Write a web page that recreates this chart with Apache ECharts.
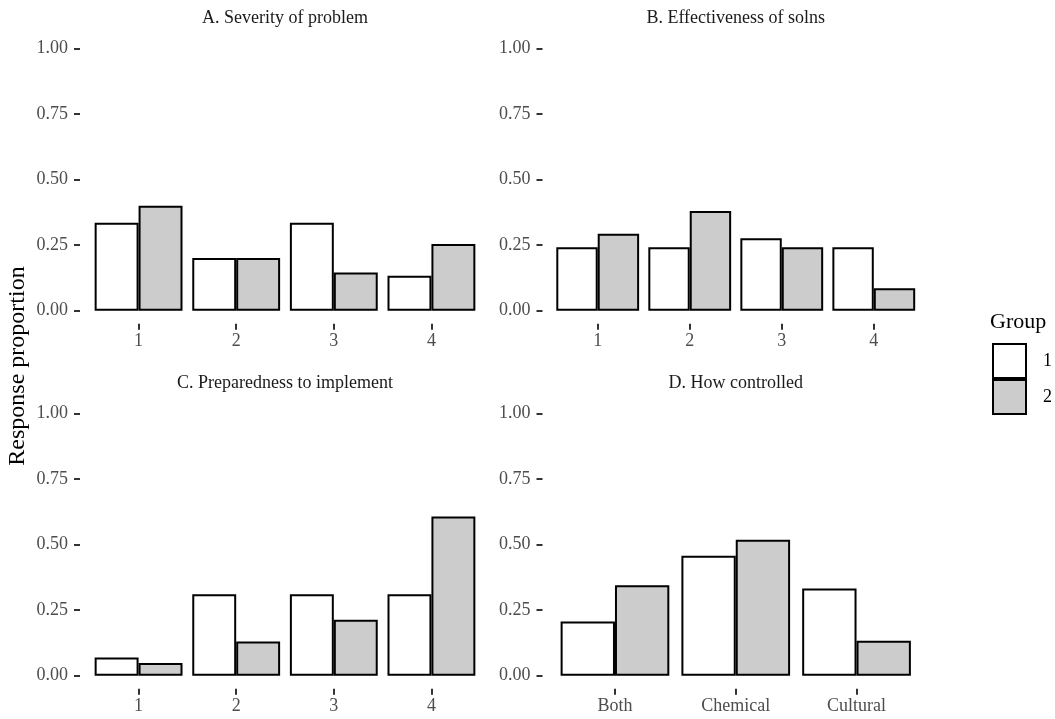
<!DOCTYPE html>
<html>
<head>
<meta charset="utf-8">
<script src="https://cdn.jsdelivr.net/npm/echarts@6/dist/echarts.min.js"></script>
<style>
  html, body { margin: 0; padding: 0; background: #fff; }
  #chart { width: 1055px; height: 719px; }
</style>
</head>
<body>
<div id="chart"></div>
<script>
// Response proportions by group for four survey questions
const panelTitles = ['A. Severity of problem', 'B. Effectiveness of solns', 'C. Preparedness to implement', 'D. How controlled'];
const scaleCats = ['1', '2', '3', '4'];
const controlCats = ['Both', 'Chemical', 'Cultural'];
const groupNames = ['1', '2'];

const severityG1 = [0.335, 0.201, 0.335, 0.133];
const severityG2 = [0.400, 0.201, 0.146, 0.254];
const effectivenessG1 = [0.242, 0.242, 0.276, 0.242];
const effectivenessG2 = [0.293, 0.380, 0.242, 0.086];
const preparednessG1 = [0.069, 0.310, 0.310, 0.310];
const preparednessG2 = [0.048, 0.130, 0.213, 0.607];
const controlG1 = [0.207, 0.457, 0.332];
const controlG2 = [0.345, 0.518, 0.133];

const FONT = 'Liberation Serif';
const fills = ['#ffffff', '#cccccc'];

// panel frames: [x of 0.4, x of n+0.6, y of 1.00, y of 0.00]
const panels = [
  { cats: scaleCats,   g1: severityG1,      g2: severityG2,      x0: 80,    x1: 490, yTop: 48.3,  yBot: 310.7 },
  { cats: scaleCats,   g1: effectivenessG1, g2: effectivenessG2, x0: 542.5, x1: 929, yTop: 48.3,  yBot: 310.7 },
  { cats: scaleCats,   g1: preparednessG1,  g2: preparednessG2,  x0: 80,    x1: 490, yTop: 413.3, yBot: 675.7 },
  { cats: controlCats, g1: controlG1,       g2: controlG2,       x0: 542.5, x1: 929, yTop: 413.3, yBot: 675.7 }
];

const grids = [], xAxes = [], yAxes = [], series = [], graphics = [];

panels.forEach((p, i) => {
  const n = p.cats.length;
  const unit = (p.x1 - p.x0) / (n + 0.2);
  const pad = unit * 0.1;
  grids.push({
    left: p.x0 + pad,
    width: (p.x1 - p.x0) - 2 * pad,
    top: p.yTop,
    height: p.yBot - p.yTop,
    containLabel: false
  });
  xAxes.push({
    gridIndex: i,
    type: 'category',
    data: p.cats,
    offset: 13,
    axisLine: { show: false, onZero: false },
    axisTick: { show: true, alignWithLabel: true, length: 6, lineStyle: { color: '#333333', width: 2 } },
    axisLabel: { color: '#4d4d4d', fontSize: 18, fontFamily: FONT, margin: 9 },
    splitLine: { show: false }
  });
  yAxes.push({
    gridIndex: i,
    type: 'value',
    min: 0,
    max: 1,
    interval: 0.25,
    offset: pad,
    axisLine: { show: false },
    axisTick: { show: true, length: 6, lineStyle: { color: '#333333', width: 2 } },
    axisLabel: { color: '#4d4d4d', fontSize: 18, fontFamily: FONT, margin: 12,
                 formatter: v => v.toFixed(2) },
    splitLine: { show: false }
  });
  [p.g1, p.g2].forEach((vals, g) => {
    series.push({
      type: 'bar',
      name: groupNames[g],
      xAxisIndex: i,
      yAxisIndex: i,
      data: vals,
      barGap: '0%',
      barCategoryGap: '10%',
      itemStyle: { color: fills[g], borderColor: '#000000', borderWidth: 2 },
      emphasis: { disabled: true }
    });
  });
  graphics.push({
    type: 'text',
    x: (p.x0 + p.x1) / 2,
    y: p.yTop - 30,
    style: { text: panelTitles[i], fill: '#1a1a1a', font: '18px "' + FONT + '"', textAlign: 'center', textVerticalAlign: 'middle' }
  });
});

// shared y-axis title
graphics.push({
  type: 'text',
  x: 18,
  y: 366,
  rotation: Math.PI / 2,
  style: { text: 'Response proportion', fill: '#000000', font: '24px "' + FONT + '"', textAlign: 'center', textVerticalAlign: 'middle' }
});
// legend title
graphics.push({
  type: 'text',
  x: 990,
  y: 322,
  style: { text: 'Group', fill: '#000000', font: '22px "' + FONT + '"', textAlign: 'left', textVerticalAlign: 'middle' }
});

const chart = echarts.init(document.getElementById('chart'), null, { renderer: 'canvas' });
chart.setOption({
  animation: false,
  backgroundColor: '#ffffff',
  textStyle: { fontFamily: FONT },
  grid: grids,
  xAxis: xAxes,
  yAxis: yAxes,
  series: series,
  legend: {
    data: groupNames,
    orient: 'vertical',
    left: 992,
    top: 343,
    padding: 0,
    itemGap: 0,
    itemWidth: 33,
    itemHeight: 34,
    icon: 'rect',
    selectedMode: false,
    itemStyle: { borderColor: '#000000', borderWidth: 2 },
    textStyle: { color: '#000000', fontSize: 18, fontFamily: FONT, padding: [0, 0, 0, 12] }
  },
  graphic: graphics
});
</script>
</body>
</html>
